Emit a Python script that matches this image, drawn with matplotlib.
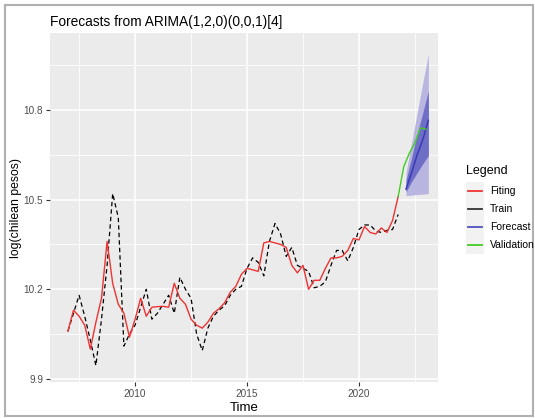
import numpy as np
import matplotlib
matplotlib.use("Agg")
import matplotlib.pyplot as plt
from matplotlib.lines import Line2D
from matplotlib.patches import Rectangle

# ===========================================
# Data (quarterly, log of chilean pesos)

start_year = 2007.0

train = [10.06, 10.12, 10.18, 10.11, 10.03, 9.945, 10.10, 10.28, 10.52, 10.44,
         10.01, 10.05, 10.08, 10.14, 10.20, 10.10, 10.12, 10.15, 10.18, 10.12,
         10.24, 10.20, 10.17, 10.05, 9.995, 10.07, 10.11, 10.13, 10.145, 10.18,
         10.20, 10.21, 10.27, 10.305, 10.29, 10.245, 10.36, 10.42, 10.385, 10.31,
         10.34, 10.28, 10.27, 10.26, 10.205, 10.21, 10.225, 10.28, 10.33, 10.33,
         10.295, 10.34, 10.40, 10.415, 10.415, 10.395, 10.39, 10.397, 10.40, 10.45]

fitting = [10.06, 10.13, 10.11, 10.08, 10.00, 10.09, 10.17, 10.36, 10.22, 10.15,
           10.12, 10.04, 10.10, 10.17, 10.11, 10.14, 10.142, 10.143, 10.14, 10.22,
           10.17, 10.15, 10.10, 10.08, 10.07, 10.09, 10.12, 10.135, 10.155, 10.19,
           10.21, 10.25, 10.27, 10.265, 10.26, 10.355, 10.36, 10.355, 10.35, 10.34,
           10.28, 10.255, 10.28, 10.20, 10.23, 10.23, 10.27, 10.305, 10.305, 10.31,
           10.33, 10.37, 10.365, 10.41, 10.39, 10.385, 10.405, 10.39, 10.43, 10.51]

valid_time = [2021.75, 2022.0, 2022.25, 2022.5, 2022.75, 2023.0]
validation = [10.51, 10.61, 10.655, 10.69, 10.74, 10.735]

fc_time = [2022.1, 2022.35, 2022.6, 2022.85, 2023.1]
fc_mean = [10.535, 10.59, 10.65, 10.70, 10.765]
lo80 = [10.525, 10.56, 10.59, 10.62, 10.647]
hi80 = [10.565, 10.64, 10.72, 10.79, 10.863]
lo95 = [10.513, 10.515, 10.517, 10.518, 10.52]
hi95 = [10.59, 10.69, 10.79, 10.89, 10.987]

leg_labels = ["Fiting", "Train", "Forecast", "Validation"]
leg_colors = ["#EE3333", "#333333", "#5050C0", "#44CC22"]

# ===========================================

W, H = 535, 418
def fx(x): return x / W
def fy(y): return 1 - y / H

plt.rcParams['font.family'] = ['Liberation Sans', 'DejaVu Sans']

fig = plt.figure(figsize=(W / 100, H / 100), dpi=100)
ax = fig.add_axes([fx(50), fy(382), fx(438) - fx(50), fy(33) - fy(382)])
ax.set_facecolor("#EBEBEB")
for s in ax.spines.values():
    s.set_visible(False)

t = start_year + 0.25 * np.arange(len(train))

### Forecast intervals
ax.fill_between(fc_time, lo95, hi95, color="#B8B6E0", lw=0, zorder=2)
ax.fill_between(fc_time, lo80, hi80, color="#6E6EC6", lw=0, zorder=3)

### Lines
ax.plot(t, train, color="black", lw=0.9, ls=(0, (3.5, 2.5)), zorder=4)
ax.plot(t, fitting, color=leg_colors[0], lw=1.0, zorder=5)
ax.plot(fc_time, fc_mean, color="#3A3AB8", lw=1.1, zorder=6)
ax.plot(valid_time, validation, color=leg_colors[3], lw=1.0, zorder=7)

### Axes and grid
ax.set_xlim(2006.2, 2023.53)
ax.set_ylim(9.89, 11.057)
ax.set_xticks([2010, 2015, 2020])
ax.set_xticks([2007.5, 2012.5, 2017.5, 2022.5], minor=True)
ax.set_yticks([9.9, 10.2, 10.5, 10.8])
ax.set_yticks([10.05, 10.35, 10.65, 10.95], minor=True)
ax.set_yticklabels(["9.9", "10.2", "10.5", "10.8"])
ax.grid(which="major", color="white", lw=1.1, zorder=0)
ax.grid(which="minor", color="white", lw=0.6, zorder=0)
ax.set_axisbelow(True)
ax.tick_params(which="major", length=3, width=0.8, color="#333333",
               labelsize=7.2, labelcolor="#4D4D4D", pad=2)
ax.tick_params(which="minor", length=0)

ax.set_xlabel("Time", fontsize=9.5, labelpad=2)
ax.set_ylabel("log(chilean pesos)", fontsize=8.8, labelpad=1)
ax.set_title("Forecasts from ARIMA(1,2,0)(0,0,1)[4]", fontsize=9.9,
             loc="left", pad=5)

### Legend drawn by hand (ggplot style)
fig.text(fx(466), fy(171), "Legend", fontsize=9, va="center", ha="left")
for i, (lab, col) in enumerate(zip(leg_labels, leg_colors)):
    yc = 190.7 + 18 * i
    fig.patches.append(Rectangle((fx(466), fy(yc + 9)), fx(484) - fx(466),
                                 fy(yc - 9) - fy(yc + 9), transform=fig.transFigure,
                                 facecolor="#F2F2F2", edgecolor="none"))
    fig.lines.append(Line2D([fx(468), fx(482)], [fy(yc), fy(yc)],
                            transform=fig.transFigure, color=col, lw=1.3))
    fig.text(fx(490), fy(yc), lab, fontsize=7.5, va="center", ha="left")

### Outer frame of the image
fig.patches.append(Rectangle((fx(5), fy(416)), fx(533) - fx(5), fy(5) - fy(416),
                             transform=fig.transFigure, facecolor="none",
                             edgecolor="#B0B0B0", lw=1.5))

plt.savefig("out.png", dpi=100)
